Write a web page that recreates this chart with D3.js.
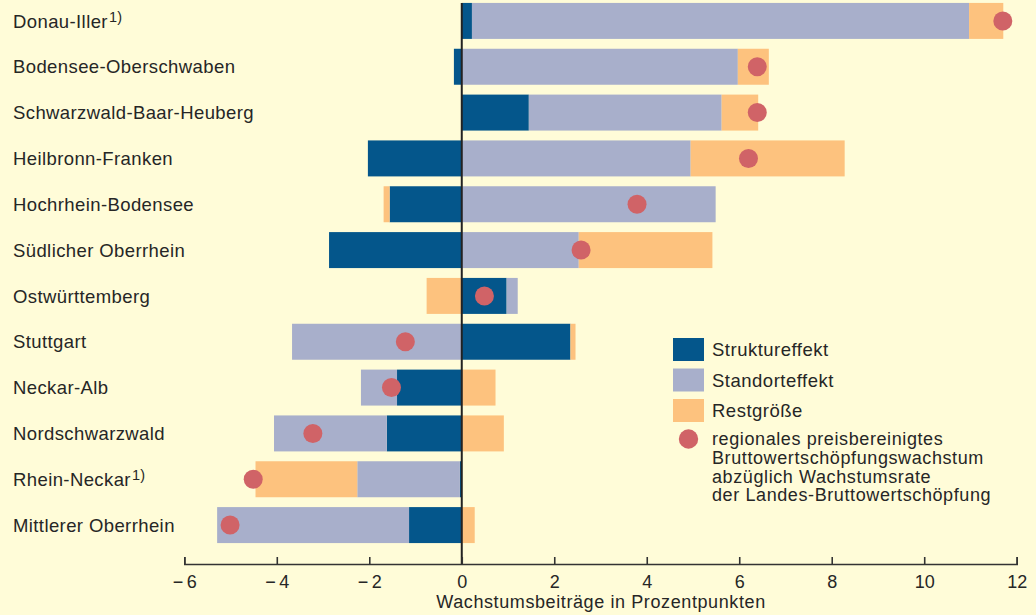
<!DOCTYPE html>
<html>
<head>
<meta charset="utf-8">
<script src="https://cdn.jsdelivr.net/npm/d3@7"></script>
<style>
  html, body { margin: 0; padding: 0; background: #fffcd8; }
  svg { display: block; font-family: "Liberation Sans", Arial, sans-serif; }
</style>
</head>
<body>
<svg id="chart"></svg>
<script>

// regions, top to bottom
const categories = [
  "Donau-Iller", "Bodensee-Oberschwaben", "Schwarzwald-Baar-Heuberg", "Heilbronn-Franken",
  "Hochrhein-Bodensee", "Südlicher Oberrhein", "Ostwürttemberg", "Stuttgart",
  "Neckar-Alb", "Nordschwarzwald", "Rhein-Neckar", "Mittlerer Oberrhein"
];
// regions with footnote 1)
const footnoted = ["Donau-Iller", "Rhein-Neckar"];

// growth contributions in percentage points
const struktur = [0.22, -0.17, 1.45, -2.03, -1.56, -2.87, 0.97, 2.35, -1.40, -1.62, -0.04, -1.14];
const standort = [10.75, 5.97, 4.17, 4.95, 5.49, 2.53, 0.24, -3.67, -0.78, -2.44, -2.22, -4.15];
const rest     = [0.74, 0.67, 0.79, 3.33, -0.13, 2.89, -0.76, 0.11, 0.73, 0.91, -2.20, 0.28];
// regional growth minus state growth (dots)
const wachstum = [11.70, 6.39, 6.39, 6.20, 3.79, 2.58, 0.49, -1.22, -1.52, -3.22, -4.51, -5.01];

const seriesNames = ["Struktureffekt", "Standorteffekt", "Restgröße"];
const dotLabel = [
  "regionales preisbereinigtes",
  "Bruttowertschöpfungswachstum",
  "abzüglich Wachstumsrate",
  "der Landes-Bruttowertschöpfung"
];

const xTicks = [-6, -4, -2, 0, 2, 4, 6, 8, 10, 12];
const xTickLabels = ["\u2212\u20096", "\u2212\u20094", "\u2212\u20092", "0", "2", "4", "6", "8", "10", "12"];
const xTitle = "Wachstumsbeiträge in Prozentpunkten";

const width = 1036;
const height = 615;
const colors = ["#04568b", "#a8afcb", "#fdc27e"];
const dotColor = "#d06367";
const textColor = "#262626";

const svg = d3.select('#chart')
  .attr('width', width)
  .attr('height', height);

const x = d3.scaleLinear().domain([-6, 12]).range([184.3, 1016.7]);
const y = d3.scaleBand().domain(categories).range([-2, 548])
  .paddingInner(0.215).paddingOuter(0.1075);

// rows for the stack
const rows = categories.map((c, i) => ({
  region: c,
  Struktureffekt: struktur[i],
  Standorteffekt: standort[i],
  "Restgröße": rest[i]
}));

const stacked = d3.stack()
  .keys(seriesNames)
  .offset(d3.stackOffsetDiverging)(rows);

// bars
svg.selectAll('.series')
  .data(stacked)
  .enter()
  .append('g')
  .attr('class', 'series')
  .attr('fill', (_, i) => colors[i])
  .selectAll('rect')
  .data(d => d)
  .enter()
  .append('rect')
  .attr('x', d => x(Math.min(d[0], d[1])))
  .attr('y', d => y(d.data.region))
  .attr('width', d => Math.abs(x(d[1]) - x(d[0])))
  .attr('height', y.bandwidth());

// zero line
svg.append('line')
  .attr('x1', x(0)).attr('x2', x(0))
  .attr('y1', y(categories[0])).attr('y2', 564)
  .attr('stroke', '#222')
  .attr('stroke-width', 2);

// dots
svg.selectAll('.dot')
  .data(wachstum)
  .enter()
  .append('circle')
  .attr('class', 'dot')
  .attr('cx', d => x(d))
  .attr('cy', (_, i) => y(categories[i]) + y.bandwidth() / 2)
  .attr('r', 9.5)
  .attr('fill', dotColor);

// region labels
const labels = svg.selectAll('.label')
  .data(categories)
  .enter()
  .append('text')
  .attr('class', 'label')
  .attr('x', 13)
  .attr('y', d => y(d) + y.bandwidth() / 2)
  .attr('dy', '0.36em')
  .attr('font-size', 18.5)
  .attr('letter-spacing', 0.4)
  .attr('fill', textColor)
  .text(d => d);

labels.filter(d => footnoted.includes(d))
  .append('tspan')
  .attr('font-size', 14.5)
  .attr('dx', 1)
  .attr('dy', -6)
  .text('1)');

// x axis
const axis = svg.append('g')
  .attr('transform', 'translate(0,564)')
  .call(d3.axisBottom(x)
    .tickValues(xTicks)
    .tickFormat((d, i) => xTickLabels[i])
    .tickSizeInner(-7)
    .tickSizeOuter(-7)
    .tickPadding(11));

axis.select('.domain').attr('stroke', '#333').attr('stroke-width', 1.6);
axis.selectAll('.tick line').attr('stroke', '#333').attr('stroke-width', 1.6);
axis.selectAll('.tick text')
  .attr('font-size', 18)
  .attr('font-family', '"Liberation Sans", Arial, sans-serif')
  .attr('fill', textColor);

svg.append('text')
  .attr('x', 601)
  .attr('y', 608)
  .attr('text-anchor', 'middle')
  .attr('font-size', 18)
  .attr('letter-spacing', 0.6)
  .attr('fill', textColor)
  .text(xTitle);

// legend
const legend = svg.append('g').attr('transform', 'translate(673,338)');

seriesNames.forEach((name, i) => {
  legend.append('rect')
    .attr('x', 0)
    .attr('y', i * 30.5)
    .attr('width', 31)
    .attr('height', 23)
    .attr('fill', colors[i]);
  legend.append('text')
    .attr('x', 39)
    .attr('y', i * 30.5 + 11.5)
    .attr('dy', '0.36em')
    .attr('font-size', 18.5)
    .attr('letter-spacing', 0.5)
    .attr('fill', textColor)
    .text(name);
});

legend.append('circle')
  .attr('cx', 15.5)
  .attr('cy', 101)
  .attr('r', 9.7)
  .attr('fill', dotColor);

legend.append('text')
  .attr('font-size', 18)
  .attr('letter-spacing', 0.6)
  .attr('fill', textColor)
  .selectAll('tspan')
  .data(dotLabel)
  .enter()
  .append('tspan')
  .attr('x', 39)
  .attr('y', (_, i) => 100.7 + i * 18.7)
  .attr('dy', '0.36em')
  .text(d => d);

</script>
</body>
</html>
